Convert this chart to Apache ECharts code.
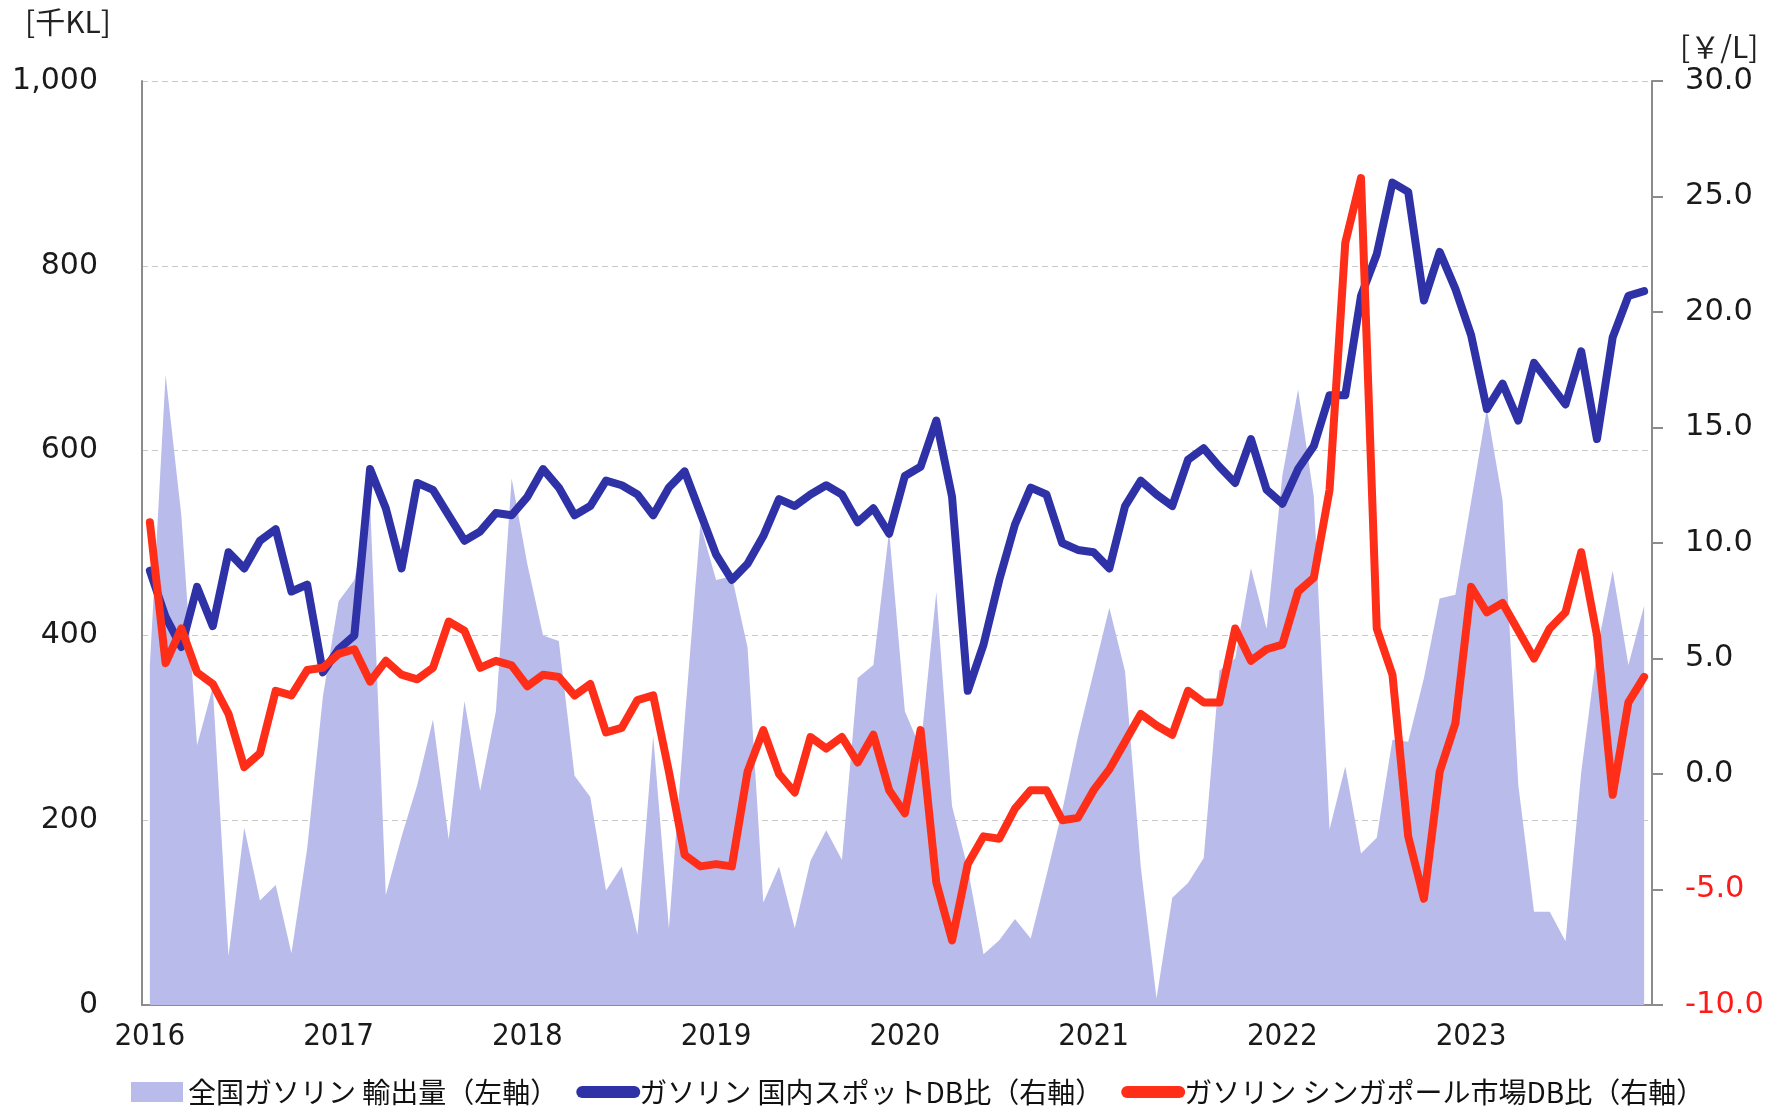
<!DOCTYPE html>
<html>
<head>
<meta charset="utf-8">
<script src="https://cdn.jsdelivr.net/npm/echarts@6/dist/echarts.min.js"></script>
<style>
  html, body { margin: 0; padding: 0; background: #fff; }
  #chart { width: 1771px; height: 1107px; }
</style>
</head>
<body>
<div id="chart"></div>
<script>
  // 年（横軸ラベル）
  var years = ['2016', '2017', '2018', '2019', '2020', '2021', '2022', '2023'];

  // 全国ガソリン 輸出量 [千KL]（左軸）
  var exportVolume = [
    368, 682, 530, 281, 344, 53, 192, 113, 130, 56, 169, 334,
    437, 460, 545, 119, 182, 238, 309, 179, 329, 232, 318, 570,
    477, 400, 394, 248, 225, 124, 150, 76, 291, 83, 308, 520,
    460, 464, 387, 111, 150, 83, 156, 189, 157, 354, 368, 513,
    318, 278, 447, 215, 148, 55, 70, 93, 72, 140, 210, 290,
    360, 430, 361, 149, 7, 116, 132, 159, 362, 375, 473, 407,
    573, 666, 550, 190, 258, 164, 181, 287, 285, 354, 440, 444,
    545, 645, 546, 238, 101, 101, 69, 252, 384, 470, 368, 432
  ];

  // ガソリン 国内スポットDB比 [￥/L]（右軸）
  var domesticSpread = [
    8.8, 6.8, 5.5, 8.1, 6.4, 9.6, 8.9, 10.1, 10.6, 7.9, 8.2, 4.4,
    5.4, 6.0, 13.2, 11.5, 8.9, 12.6, 12.3, 11.2, 10.1, 10.5, 11.3, 11.2,
    12.0, 13.2, 12.4, 11.2, 11.6, 12.7, 12.5, 12.1, 11.2, 12.4, 13.1, 11.3,
    9.5, 8.4, 9.1, 10.3, 11.9, 11.6, 12.1, 12.5, 12.1, 10.9, 11.5, 10.4,
    12.9, 13.3, 15.3, 12.0, 3.6, 5.6, 8.4, 10.8, 12.4, 12.1, 10.0, 9.7,
    9.6, 8.9, 11.6, 12.7, 12.1, 11.6, 13.6, 14.1, 13.3, 12.6, 14.5, 12.3,
    11.7, 13.2, 14.2, 16.4, 16.4, 20.7, 22.5, 25.6, 25.2, 20.5, 22.6, 21.0,
    19.0, 15.8, 16.9, 15.3, 17.8, 16.9, 16.0, 18.3, 14.5, 18.9, 20.7, 20.9
  ];

  // ガソリン シンガポール市場DB比 [￥/L]（右軸）
  var singaporeSpread = [
    10.9, 4.8, 6.3, 4.4, 3.9, 2.6, 0.3, 0.9, 3.6, 3.4, 4.5, 4.6,
    5.2, 5.4, 4.0, 4.9, 4.3, 4.1, 4.6, 6.6, 6.2, 4.6, 4.9, 4.7,
    3.8, 4.3, 4.2, 3.4, 3.9, 1.8, 2.0, 3.2, 3.4, 0.1, -3.5, -4.0,
    -3.9, -4.0, 0.1, 1.9, 0.0, -0.8, 1.6, 1.1, 1.6, 0.5, 1.7, -0.7,
    -1.7, 1.9, -4.7, -7.2, -3.9, -2.7, -2.8, -1.5, -0.7, -0.7, -2.0, -1.9,
    -0.7, 0.2, 1.4, 2.6, 2.1, 1.7, 3.6, 3.1, 3.1, 6.3, 4.9, 5.4,
    5.6, 7.9, 8.5, 12.3, 23.0, 25.8, 6.3, 4.3, -2.7, -5.4, 0.1, 2.2,
    8.1, 7.0, 7.4, 6.2, 5.0, 6.3, 7.0, 9.6, 6.0, -0.9, 3.1, 4.2
  ];

  var seriesNames = [
    '全国ガソリン 輸出量（左軸）',
    'ガソリン 国内スポットDB比（右軸）',
    'ガソリン シンガポール市場DB比（右軸）'
  ];

  // 月次カテゴリ 2016/01 ... 2023/12
  var categories = [];
  years.forEach(function (y) {
    for (var m = 1; m <= 12; m++) {
      categories.push(y + '/' + (m < 10 ? '0' + m : m));
    }
  });

  var numFont = "'DejaVu Sans', Verdana, sans-serif";
  var jpFont = "'Noto Sans CJK JP', sans-serif";
  var axisGray = '#8c8c8c';

  var myChart = echarts.init(document.getElementById('chart'));
  myChart.setOption({
    animation: false,
    backgroundColor: '#fff',
    grid: { left: 142, right: 119, top: 81, bottom: 102, containLabel: false },
    xAxis: {
      type: 'category',
      data: categories,
      boundaryGap: true,
      axisLine: { show: true, lineStyle: { color: axisGray, width: 2 } },
      axisTick: { show: false },
      splitLine: { show: false },
      axisLabel: {
        interval: function (index) { return index % 12 === 0; },
        formatter: function (v) { return v.slice(0, 4); },
        fontFamily: "'DejaVu Sans Condensed', 'DejaVu Sans', sans-serif",
        fontSize: 31,
        color: '#1a1a1a',
        margin: 16
      }
    },
    yAxis: [{
      type: 'value',
      position: 'left',
      min: 0,
      max: 1000,
      interval: 200,
      axisLine: { show: true, lineStyle: { color: axisGray, width: 2 } },
      axisTick: { show: false },
      splitLine: { show: true, lineStyle: { color: '#c8c8c8', width: 1.2, type: [6, 4] } },
      axisLabel: {
        formatter: function (v) { return v.toLocaleString('en-US'); },
        fontFamily: numFont,
        fontSize: 30,
        color: '#1a1a1a',
        margin: 44
      }
    }, {
      type: 'value',
      position: 'right',
      min: -10,
      max: 30,
      interval: 5,
      axisLine: { show: true, lineStyle: { color: axisGray, width: 2 } },
      axisTick: { show: true, inside: false, length: 11, lineStyle: { color: axisGray, width: 2 } },
      splitLine: { show: false },
      axisLabel: {
        formatter: function (v) {
          var s = v.toFixed(1);
          return v < 0 ? '{neg|' + s + '}' : s;
        },
        rich: {
          neg: { color: '#ff1a1a', fontFamily: numFont, fontSize: 30.5 }
        },
        fontFamily: numFont,
        fontSize: 30.5,
        color: '#1a1a1a',
        margin: 33
      }
    }],
    legend: {
      left: 126,
      top: 1073,
      itemWidth: 52,
      itemHeight: 20,
      itemGap: 18,
      textStyle: { fontFamily: jpFont, fontSize: 28, color: '#111' },
      data: [
        { name: seriesNames[0], icon: 'rect' },
        { name: seriesNames[1], itemStyle: { opacity: 0 }, lineStyle: { width: 12, cap: 'round' } },
        { name: seriesNames[2], itemStyle: { opacity: 0 }, lineStyle: { width: 12, cap: 'round' } }
      ]
    },
    graphic: [
      { type: 'text', left: 25, top: 7, style: { text: '[千KL]', font: "30px 'Noto Sans CJK JP'", fill: '#222' } },
      { type: 'text', left: 1680, top: 32, style: { text: '[￥/L]', font: "30px 'Noto Sans CJK JP'", fill: '#222' } }
    ],
    series: [{
      name: seriesNames[0],
      type: 'line',
      yAxisIndex: 0,
      data: exportVolume,
      symbol: 'none',
      lineStyle: { width: 0, opacity: 0 },
      itemStyle: { color: '#b9bbea' },
      areaStyle: { color: '#b9bbea', opacity: 1 },
      z: 1
    }, {
      name: seriesNames[1],
      type: 'line',
      yAxisIndex: 1,
      data: domesticSpread,
      symbol: 'none',
      itemStyle: { color: '#2e32a6' },
      lineStyle: { color: '#2e32a6', width: 8, join: 'round', cap: 'round' },
      z: 2
    }, {
      name: seriesNames[2],
      type: 'line',
      yAxisIndex: 1,
      data: singaporeSpread,
      symbol: 'none',
      itemStyle: { color: '#ff2e19' },
      lineStyle: { color: '#ff2e19', width: 8, join: 'round', cap: 'round' },
      z: 3
    }]
  });
</script>
</body>
</html>
